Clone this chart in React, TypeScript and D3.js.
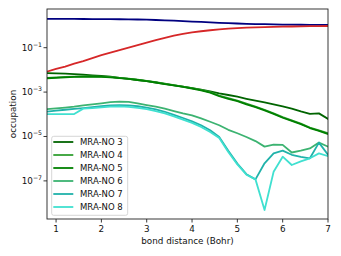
import * as d3 from 'd3';

const bond = [0.8, 1.0, 1.2, 1.4, 1.6, 1.8, 2.0, 2.2, 2.4, 2.6, 2.8, 3.0, 3.2, 3.4, 3.6, 3.8,
  4.0, 4.2, 4.4, 4.6, 4.8, 5.0, 5.2, 5.4, 5.6, 5.8, 6.0, 6.2, 6.4, 6.6, 6.8, 7.0];

const no1 = [1.98, 1.978, 1.975, 1.97, 1.965, 1.955, 1.945, 1.93, 1.91, 1.89, 1.86, 1.82, 1.77, 1.71, 1.64, 1.57,
  1.5, 1.44, 1.38, 1.32, 1.27, 1.23, 1.19, 1.16, 1.14, 1.12, 1.1, 1.09, 1.08, 1.07, 1.06, 1.05];
const no2 = [0.0083, 0.011, 0.014, 0.019, 0.025, 0.034, 0.046, 0.06, 0.078, 0.1, 0.13, 0.17, 0.22, 0.28, 0.35, 0.42,
  0.49, 0.55, 0.61, 0.67, 0.72, 0.76, 0.8, 0.83, 0.85, 0.87, 0.89, 0.9, 0.92, 0.93, 0.94, 0.95];
const no3 = [7.2e-3, 7.0e-3, 6.8e-3, 6.5e-3, 6.1e-3, 5.7e-3, 5.3e-3, 4.9e-3, 4.4e-3, 3.9e-3, 3.5e-3, 3.1e-3, 2.7e-3, 2.35e-3, 2.0e-3, 1.75e-3,
  1.5e-3, 1.3e-3, 1.08e-3, 8.8e-4, 7.4e-4, 6.2e-4, 5.0e-4, 4.1e-4, 3.4e-4, 2.8e-4, 2.3e-4, 1.8e-4, 1.35e-4, 1.05e-4, 1.1e-4, 6.2e-5];
const no4 = [4.4e-3, 4.6e-3, 4.8e-3, 5.0e-3, 5.1e-3, 5.1e-3, 5.0e-3, 4.8e-3, 4.4e-3, 4.0e-3, 3.6e-3, 3.2e-3, 2.8e-3, 2.4e-3, 2.05e-3, 1.75e-3,
  1.5e-3, 1.25e-3, 1.0e-3, 7.0e-4, 5.3e-4, 4.1e-4, 3.0e-4, 2.2e-4, 1.6e-4, 1.1e-4, 7.4e-5, 5.3e-5, 3.8e-5, 2.5e-5, 1.9e-5, 1.4e-5];
const no5 = [4.2e-3, 4.4e-3, 4.6e-3, 4.8e-3, 4.9e-3, 4.9e-3, 4.8e-3, 4.6e-3, 4.3e-3, 3.9e-3, 3.5e-3, 3.1e-3, 2.7e-3, 2.3e-3, 2.0e-3, 1.7e-3,
  1.45e-3, 1.2e-3, 9.5e-4, 6.5e-4, 5.0e-4, 3.9e-4, 2.8e-4, 2.1e-4, 1.5e-4, 1.05e-4, 7.0e-5, 5.0e-5, 3.6e-5, 2.4e-5, 1.8e-5, 1.3e-5];
const no6 = [1.7e-4, 1.85e-4, 2.0e-4, 2.2e-4, 2.5e-4, 2.8e-4, 3.1e-4, 3.5e-4, 3.7e-4, 3.6e-4, 3.1e-4, 2.6e-4, 2.2e-4, 1.8e-4, 1.4e-4, 1.1e-4,
  9e-5, 6.5e-5, 4.6e-5, 3.2e-5, 2.0e-5, 1.4e-5, 9.5e-6, 6.2e-6, 3.5e-6, 4.3e-6, 4.2e-6, 1.9e-6, 2.3e-6, 2.9e-6, 5.3e-6, 3.5e-6];
const no7 = [1.32e-4, 1.45e-4, 1.6e-4, 1.75e-4, 1.9e-4, 2.1e-4, 2.3e-4, 2.5e-4, 2.6e-4, 2.5e-4, 2.3e-4, 2.0e-4, 1.65e-4, 1.3e-4, 9.5e-5, 6.8e-5,
  4.8e-5, 3.2e-5, 1.9e-5, 9.5e-6, 2.3e-6, 6e-7, 2.0e-7, 1.17e-7, 6.2e-7, 1.74e-6, 2.3e-6, 1.5e-6, 1.2e-6, 1.04e-6, 5.3e-6, 1.5e-6];
const no8 = [1.02e-4, 1.02e-4, 1.02e-4, 1.02e-4, 1.8e-4, 1.9e-4, 2.05e-4, 2.2e-4, 2.25e-4, 2.15e-4, 1.95e-4, 1.7e-4, 1.4e-4, 1.1e-4, 8.0e-5, 5.8e-5,
  4.1e-5, 2.7e-5, 1.6e-5, 8.5e-6, 2.0e-6, 5.5e-7, 1.9e-7, 1.17e-7, 4.9e-9, 2.6e-7, 1.23e-6, 5.2e-7, 7.5e-7, 1.04e-6, 1.74e-6, 1.3e-6];

const series = [
  { name: '', color: '#000080', values: no1 },
  { name: '', color: '#d62728', values: no2 },
  { name: 'MRA-NO 3', color: '#006400', values: no3 },
  { name: 'MRA-NO 4', color: '#33a033', values: no4 },
  { name: 'MRA-NO 5', color: '#008000', values: no5 },
  { name: 'MRA-NO 6', color: '#3cb371', values: no6 },
  { name: 'MRA-NO 7', color: '#20b2aa', values: no7 },
  { name: 'MRA-NO 8', color: '#40e0d0', values: no8 },
];

const xTicks = [1, 2, 3, 4, 5, 6, 7];
const yTickExps = [-1, -3, -5, -7];

const W = 341;
const H = 256;
const margin = { top: 9, right: 13, bottom: 37, left: 47 };
const font = 'DejaVu Sans, sans-serif';
const fs = 8.8;

export default function App() {
  const iw = W - margin.left - margin.right;
  const ih = H - margin.top - margin.bottom;
  const x = d3.scaleLinear().domain([0.8, 7]).range([0, iw]);
  const y = d3.scaleLog().domain([1.92e-9, 5.53]).range([ih, 0]);
  const line = d3.line<number>()
    .x((_, i) => x(bond[i]))
    .y(d => y(d));
  const legendItems = series.filter(s => s.name);

  return (
    <div style={{ position: 'absolute', left: 0, top: 0 }}>
      <svg width={W} height={H} style={{ display: 'block', fontFamily: font }}>
        <rect width={W} height={H} fill="#fff" />
        <g transform={`translate(${margin.left},${margin.top})`}>
          <defs>
            <clipPath id="plot">
              <rect width={iw} height={ih} />
            </clipPath>
          </defs>
          <g clipPath="url(#plot)">
            {series.map((s, i) => (
              <path key={i} d={line(s.values) ?? ''} fill="none" stroke={s.color}
                strokeWidth={1.8} strokeLinejoin="round" strokeLinecap="square" />
            ))}
          </g>
          <rect width={iw} height={ih} fill="none" stroke="#222" strokeWidth={0.9} />

          {xTicks.map(t => (
            <g key={t} transform={`translate(${x(t)},${ih})`}>
              <line y2={3.5} stroke="#222" strokeWidth={0.9} />
              <text y={12.5} textAnchor="middle" fontSize={fs} fill="#111">{t}</text>
            </g>
          ))}
          {yTickExps.map(e => (
            <g key={e} transform={`translate(0,${y(Math.pow(10, e))})`}>
              <line x2={-3.5} stroke="#222" strokeWidth={0.9} />
              <text x={-5} dy={3} textAnchor="end" fontSize={fs} fill="#111">
                10<tspan fontSize={6.2} dy={-4}>{`\u2212${-e}`}</tspan>
              </text>
            </g>
          ))}

          <text x={iw / 2} y={ih + 25} textAnchor="middle" fontSize={fs} fill="#111">
            bond distance (Bohr)
          </text>
          <text transform={`translate(${-31},${ih / 2}) rotate(-90)`} textAnchor="middle"
            fontSize={fs} fill="#111">occupation</text>

          <g transform={`translate(${4.7},${127.3})`}>
            <rect width={76} height={79} rx={2} fill="#fff" fillOpacity={0.8}
              stroke="#ccc" strokeWidth={0.8} />
            {legendItems.map((s, i) => (
              <g key={s.name} transform={`translate(0,${5.7 + i * 13})`}>
                <line x1={1.6} x2={21.6} stroke={s.color} strokeWidth={1.8} />
                <text x={28.3} dy={3} fontSize={8.5} fill="#111">{s.name}</text>
              </g>
            ))}
          </g>
        </g>
      </svg>
    </div>
  );
}
